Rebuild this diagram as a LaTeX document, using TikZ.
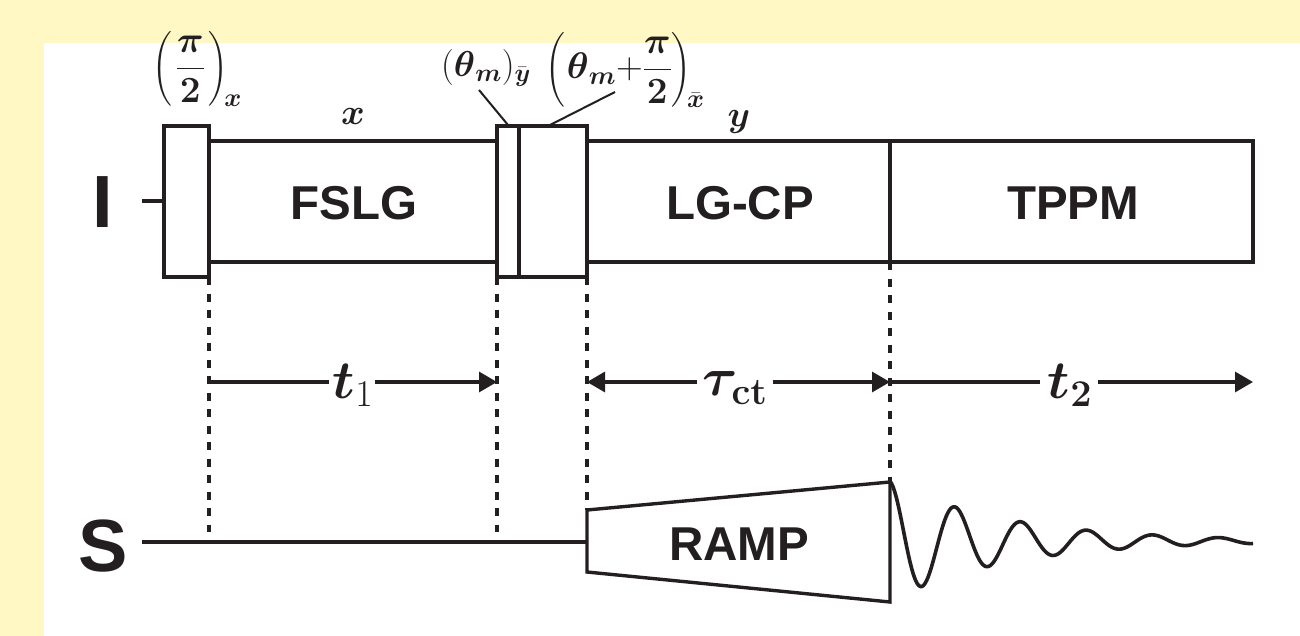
\RequirePackage{fix-cm}
\documentclass[tikz,border=0pt]{standalone}
\usepackage{amsmath}
\usepackage[no-math]{fontspec}
\setmainfont{Liberation Sans}
\usetikzlibrary{arrows.meta}
\definecolor{ink}{HTML}{231F20}
\definecolor{bgy}{HTML}{FFF8C4}
\tikzset{
  x=1pt,y=-1pt,
  ln/.style={draw=ink,line width=3.4pt},
  dots/.style={draw=ink,line width=3.4pt,dash pattern=on 8pt off 8.5pt},
  lead/.style={draw=ink,line width=2pt},
  arr/.style={draw=ink,line width=3.2pt,-{Triangle[length=18pt,width=20pt]}},
  plain/.style={draw=ink,line width=3.2pt},
  big/.style={text=ink,font=\fontsize{74}{74}\selectfont\bfseries,inner sep=0pt},
  lab/.style={text=ink,font=\fontsize{47.5}{47.5}\selectfont\bfseries,inner sep=0pt},
  mth/.style={text=ink,inner sep=0pt},
}
\newcommand{\fs}[1]{\fontsize{#1}{#1}\selectfont}
\begin{document}
\begin{tikzpicture}
\useasboundingbox (0,0) rectangle (1300,636);
\fill[bgy] (0,0) rectangle (1300,636);
\fill[white] (44,43) rectangle (1300,636);
% boxes
\draw[ln] (209,141) rectangle (497,262);
\draw[ln] (587,141) rectangle (890,262);
\draw[ln] (890,141) rectangle (1253,262);
\draw[ln] (164,126) rectangle (209,277);
\draw[ln] (497,126) rectangle (519,277);
\draw[ln] (519,126) rectangle (587,277);
\coordinate (iS) at (142,201);
\coordinate (iE) at (164,201);
\draw[ln] (iS) -- (iE);
% ramp
\draw[ln,line join=miter] (587,510) -- (890,482) -- (890,602) -- (587,572) -- cycle;
\coordinate (sS) at (142,542);
\coordinate (sE) at (587,542);
\draw[ln] (sS) -- (sE);
% dotted
\draw[dots] (209,277) -- (209,532);
\draw[dots] (497,277) -- (497,532);
\draw[dots] (587,277) -- (587,510);
\draw[dots] (890,262) -- (890,482);
% FID
\draw[draw=ink,line width=3.6pt,line join=round,samples=240,domain=890:1253]
  plot (\x,{541-60*exp((890-\x)/115)*cos(5.4545*(\x-889))});
% labels
\node[big] (I) at (103,202) {I};
\node[big] (S) at (103,546) {S};
\node[lab] (fslg) at (354,203) {FSLG};
\node[lab] (lgcp) at (740,203) {LG-CP};
\node[lab] (tppm) at (1073,203) {TPPM};
\node[lab] (ramp) at (739,544) {RAMP};
\node[mth] (x) at (353,117) {\fs{36}$\boldsymbol{x}$};
\node[mth] (y) at (739,122) {\fs{36}$\boldsymbol{y}$};
\node[mth] (pi1) at (197,69) {\fs{37}$\displaystyle\left(\mkern2mu\frac{\boldsymbol{\pi}}{\mathbf{2}}\mkern2mu\right)_{\!\boldsymbol{x}}$};
\node[mth] (th1) at (486,68) {\fs{36}$(\boldsymbol{\theta}_{\boldsymbol{m}})_{\bar{\boldsymbol{y}}}$};
\node[mth] (th2) at (625,70) {\fs{37}$\displaystyle\left(\mkern1mu\boldsymbol{\theta}_{\boldsymbol{m}}{+}\frac{\boldsymbol{\pi}}{\mathbf{2}}\right)_{\!\bar{\boldsymbol{x}}}$};
\node[mth] (t1) at (353,385) {\fs{54}$\boldsymbol{t}_{1}$};
\node[mth] (tau) at (735,388) {\fs{54}$\boldsymbol{\tau}_{\!\mathbf{ct}}$};
\node[mth] (t2) at (1070,385) {\fs{54}$\boldsymbol{t}_{\mathbf{2}}$};
% leaders
\coordinate (la) at (508,125);
\coordinate (lb) at (550,125);
\draw[lead] (479,90) coordinate (la0) -- (la);
\draw[lead] (615,92) coordinate (lb0) -- (lb);
% timing arrows
\coordinate (a1) at (211,382);
\coordinate (a2) at (497,382);
\coordinate (a3) at (587,382);
\coordinate (a4) at (890,382);
\coordinate (a5) at (1253,382);
\draw[plain] (a1) -- ([xshift=-4pt]t1.west |- a1);
\draw[arr] ([xshift=2pt]t1.east |- a1) -- (a2);
\draw[arr] ([xshift=-5pt]tau.west |- a3) -- (a3);
\draw[arr] ([xshift=5pt]tau.east |- a3) -- (a4);
\draw[plain] (a4) -- ([xshift=-8pt]t2.west |- a4);
\draw[arr] ([xshift=6pt]t2.east |- a4) -- (a5);
\end{tikzpicture}
\end{document}
